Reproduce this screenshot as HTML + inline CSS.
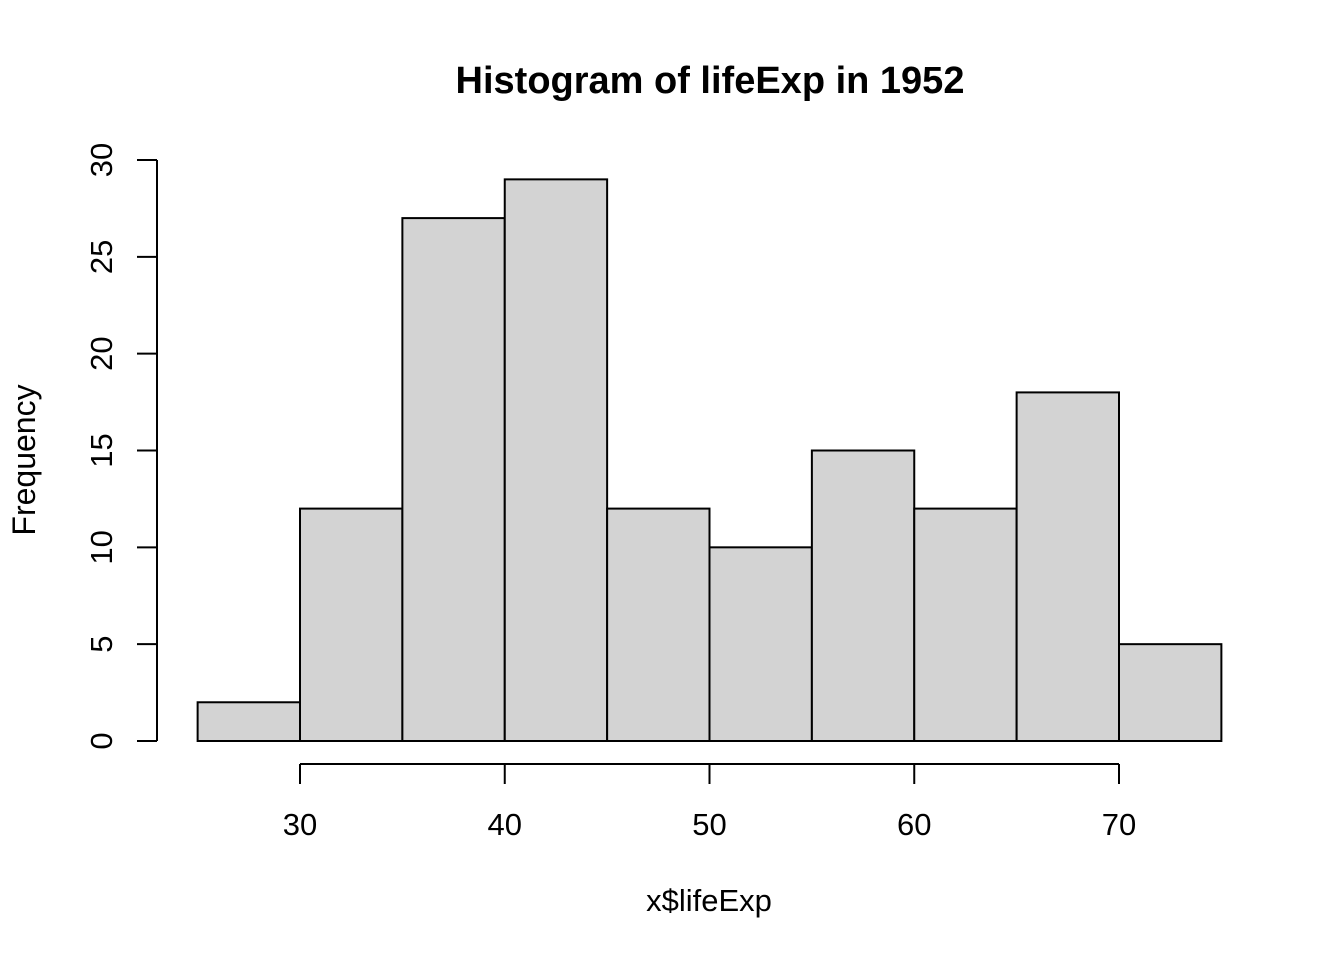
<!DOCTYPE html>
<html><head><meta charset="utf-8"><style>
html,body{margin:0;padding:0;background:#fff;}
svg{display:block;font-family:"Liberation Sans",Arial,sans-serif;}
</style></head><body>
<svg id="chart" width="1344" height="960" viewBox="0 0 1344 960">
<text x="710" y="93" text-anchor="middle" font-size="38" font-weight="bold">Histogram of lifeExp in 1952</text>
<text x="709" y="911" text-anchor="middle" font-size="31">x$lifeExp</text>
<text transform="translate(35,460) rotate(-90)" text-anchor="middle" font-size="32">Frequency</text>
<g id="bars"></g>
<g id="xaxis"></g>
<g id="yaxis"></g>
</svg>
<script>
const binStarts = [25,30,35,40,45,50,55,60,65,70];
const binWidth = 5;
const counts = [2,12,27,29,12,10,15,12,18,5];
const xTicks = [30,40,50,60,70];
const yTicks = [0,5,10,15,20,25,30];
const NS="http://www.w3.org/2000/svg";
function xs(v){return 300+(v-30)*20.475;}
function ys(v){return 741-v*(581/30);}
function mk(tag,attrs,parent){const e=document.createElementNS(NS,tag);for(const k in attrs)e.setAttribute(k,attrs[k]);parent.appendChild(e);return e;}
const bars=document.getElementById('bars');
binStarts.forEach((s,i)=>{
  const r=mk('rect',{x:xs(s),y:ys(counts[i]),width:xs(s+binWidth)-xs(s),height:ys(0)-ys(counts[i]),fill:'#d3d3d3',stroke:'#000','stroke-width':2},bars);
  
  
});
const xa=document.getElementById('xaxis');
mk('line',{x1:xs(xTicks[0]),x2:xs(xTicks[xTicks.length-1]),y1:764,y2:764,stroke:'#000','stroke-width':2},xa);
xTicks.forEach(t=>{
  mk('line',{x1:xs(t),x2:xs(t),y1:764,y2:784,stroke:'#000','stroke-width':2},xa);
  const tx=mk('text',{x:xs(t),y:835,'text-anchor':'middle','font-size':31},xa);
  tx.textContent=t;
  
  
});
const ya=document.getElementById('yaxis');
mk('line',{x1:157,x2:157,y1:ys(yTicks[0]),y2:ys(yTicks[yTicks.length-1]),stroke:'#000','stroke-width':2},ya);
yTicks.forEach(t=>{
  mk('line',{x1:137,x2:157,y1:ys(t),y2:ys(t),stroke:'#000','stroke-width':2},ya);
  const tx=mk('text',{transform:'translate(112,'+ys(t)+') rotate(-90)','text-anchor':'middle','font-size':31},ya);
  tx.textContent=t;
  
  
});
</script>
</body></html>
